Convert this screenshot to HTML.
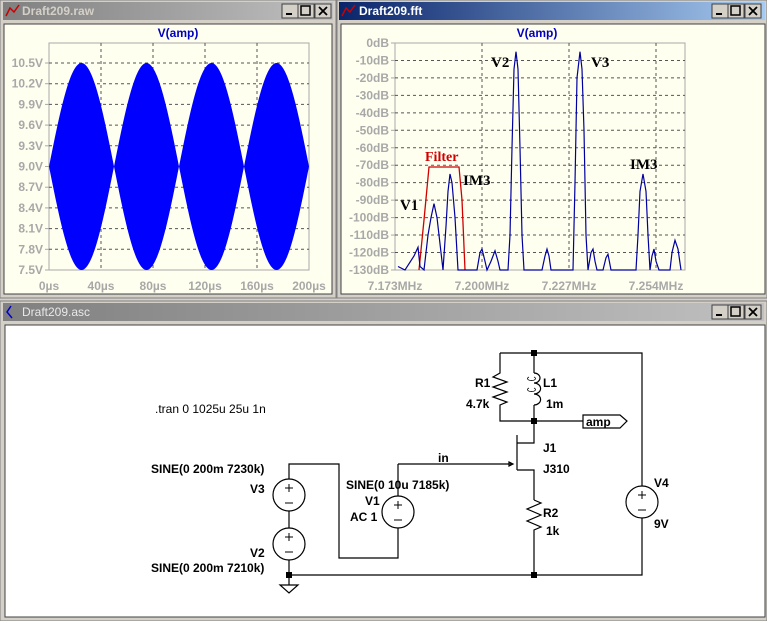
<!DOCTYPE html>
<html><head><meta charset="utf-8"><style>
html,body{margin:0;padding:0;background:#d4d0c8;}
svg{display:block;}
.ax{font:bold 12px "Liberation Sans",sans-serif;fill:#a8a8a8;}
.sc{font:bold 12px "Liberation Sans",sans-serif;fill:#000;}
.sr{font:bold 15px "Liberation Serif",serif;fill:#000;}
.tt{font:bold 12px "Liberation Sans",sans-serif;}
</style></head><body>
<svg id="s" width="767" height="621" viewBox="0 0 767 621" xmlns="http://www.w3.org/2000/svg">
<defs>
<linearGradient id="gi" x1="0" x2="1"><stop offset="0" stop-color="#808080"/><stop offset="1" stop-color="#c0c0c0"/></linearGradient>
<linearGradient id="ga" x1="0" x2="1"><stop offset="0" stop-color="#0a246a"/><stop offset="1" stop-color="#a6caf0"/></linearGradient>
</defs>
<rect width="767" height="621" fill="#d4d0c8"/>
<rect x="0" y="0" width="336" height="298" fill="#d4d0c8" stroke="#808080"/>
<rect x="3" y="2" width="330" height="18" fill="url(#gi)"/>
<text x="22" y="15" class="tt" fill="#d4d0c8">Draft209.raw</text>
<path d="M6 16 L10 8 L14 12 L19 5" stroke="#c00" fill="none" stroke-width="1.5"/>
<rect x="4" y="24" width="328" height="270" fill="#fffff0" stroke="#404040"/>
<text x="178" y="37" class="tt" fill="#0000c0" text-anchor="middle">V(amp)</text>
<rect x="337" y="0" width="430" height="298" fill="#d4d0c8" stroke="#808080"/>
<rect x="339" y="2" width="426" height="18" fill="url(#ga)"/>
<text x="359" y="15" class="tt" fill="#fff">Draft209.fft</text>
<path d="M342 16 L346 8 L350 12 L355 5" stroke="#c00" fill="none" stroke-width="1.5"/>
<rect x="341" y="24" width="424" height="270" fill="#fffff0" stroke="#404040"/>
<text x="537" y="37" class="tt" fill="#0000c0" text-anchor="middle">V(amp)</text>
<rect x="0" y="301" width="767" height="320" fill="#d4d0c8" stroke="#808080"/>
<rect x="3" y="303" width="761" height="18" fill="url(#gi)"/>
<text x="22" y="316" class="tt" fill="#e8e8e8" style="font-weight:normal">Draft209.asc</text>
<path d="M11 306 L7 312 L12 318" stroke="#00c" fill="none" stroke-width="1.5"/>
<rect x="5" y="325" width="760" height="292" fill="#fff" stroke="#404040"/>
<g id="btns"></g>
<g id="plots"></g>

<polyline fill="none" stroke="#d00000" stroke-width="1.3" points="419,270 424,220 429,167 459,167 462,200 465,270"/>
<polyline id="fft" fill="none" stroke="#0000a0" stroke-width="1.2"/>
<text x="425" y="161" style="font:bold 14px 'Liberation Serif',serif;fill:#d00000">Filter</text>
<text x="491" y="67" class="sr">V2</text>
<text x="591" y="67" class="sr">V3</text>
<text x="463" y="185" class="sr">IM3</text>
<text x="630" y="169" class="sr">IM3</text>
<text x="400" y="210" class="sr">V1</text>

<g stroke="#000" fill="none" stroke-width="1.2">
<path d="M500 353 H642 V486 M642 518 V575 H289"/>
<path d="M500 353 V373 L493 377 L507 382 L493 387 L507 392 L493 397 L507 402 L500 405 V421 H583"/>
<path d="M534 353 V373 M534 405 V443 H517 M517 435 V470 M517 470 H534 V500"/>
<path d="M534 373 a6 5 0 0 1 0 10 a6 5 0 0 1 0 11 a6 5 0 0 1 0 11"/>
<path d="M529 377 a4 2 0 1 0 5 0 M529 388 a4 2 0 1 0 5 0" stroke-width="0.8"/>
<path d="M534 500 L541 503 L527 509 L541 515 L527 521 L541 527 L534 530 V575"/>
<path d="M398 464 H513 M513 464 L509 462 L509 466 Z" />
<path d="M583 415 H620 L627 421 L620 428 H583 Z"/>
<circle cx="289" cy="495" r="16"/><circle cx="289" cy="544" r="16"/>
<circle cx="398" cy="512" r="16"/><circle cx="642" cy="502" r="16"/>
<path d="M289 479 V464 H339 V558 H398 V528 M398 496 V464 M289 511 V528 M289 560 V585"/>
<path d="M280 585 H298 L289 593 Z"/>
<path d="M289 484 v8 M285 488 h8 M285 503 h8 M289 533 v8 M285 537 h8 M285 552 h8 M398 501 v8 M394 505 h8 M394 520 h8 M642 491 v8 M638 495 h8 M638 510 h8" stroke-width="1"/>
</g>
<g fill="#000"><rect x="531" y="350" width="6" height="6"/><rect x="531" y="418" width="6" height="6"/><rect x="531" y="572" width="6" height="6"/><rect x="286" y="572" width="6" height="6"/></g>
<text x="586" y="426" class="sc">amp</text>
<text x="155" y="413" class="sc" style="font-weight:normal">.tran 0 1025u 25u 1n</text>
<text x="151" y="473" class="sc">SINE(0 200m 7230k)</text>
<text x="250" y="493" class="sc">V3</text>
<text x="250" y="557" class="sc">V2</text>
<text x="151" y="572" class="sc">SINE(0 200m 7210k)</text>
<text x="346" y="489" class="sc">SINE(0 10u 7185k)</text>
<text x="365" y="505" class="sc">V1</text>
<text x="350" y="521" class="sc">AC 1</text>
<text x="438" y="462" class="sc">in</text>
<text x="475" y="387" class="sc">R1</text>
<text x="466" y="408" class="sc">4.7k</text>
<text x="543" y="387" class="sc">L1</text>
<text x="546" y="408" class="sc">1m</text>
<text x="543" y="452" class="sc">J1</text>
<text x="543" y="473" class="sc">J310</text>
<text x="543" y="517" class="sc">R2</text>
<text x="546" y="535" class="sc">1k</text>
<text x="654" y="487" class="sc">V4</text>
<text x="654" y="528" class="sc">9V</text>
</svg>
<script>
var NS="http://www.w3.org/2000/svg",P=document.getElementById("plots");
function el(t,a,p){var e=document.createElementNS(NS,t);for(var k in a)e.setAttribute(k,a[k]);(p||P).appendChild(e);return e;}
el("rect",{x:49,y:43,width:260,height:227,fill:"none",stroke:"#a8a8a8"});
var yl=["10.5V","10.2V","9.9V","9.6V","9.3V","9.0V","8.7V","8.4V","8.1V","7.8V","7.5V"];
for(var i=0;i<11;i++){var y=63+i*20.7;if(i<10)el("line",{x1:49,x2:309,y1:y,y2:y,stroke:"#555","stroke-dasharray":"3,3"});
el("line",{x1:45,x2:49,y1:y,y2:y,stroke:"#a8a8a8"});var t=el("text",{x:43,y:y+4,"class":"ax","text-anchor":"end"});t.textContent=yl[i];}
var xl=["0µs","40µs","80µs","120µs","160µs","200µs"];
for(i=0;i<6;i++){var x=49+i*52;if(i>0&&i<5)el("line",{x1:x,x2:x,y1:43,y2:270,stroke:"#555","stroke-dasharray":"3,3"});
var t=el("text",{x:x,y:290,"class":"ax","text-anchor":"middle"});t.textContent=xl[i];}
var tp="",bt="";for(var xx=49;xx<=309;xx+=1){var a=Math.abs(Math.sin((xx-49)/65*Math.PI));var yy=103.5*a;tp+=xx+","+(166.5-yy)+" ";bt=xx+","+(166.5+yy)+" "+bt;}
el("polygon",{points:tp+bt,fill:"#0000ff"});
el("rect",{x:395,y:43,width:290,height:227,fill:"none",stroke:"#a8a8a8"});
for(i=0;i<14;i++){var y=43+i*17.46;if(i>0&&i<13)el("line",{x1:395,x2:685,y1:y,y2:y,stroke:"#555","stroke-dasharray":"3,3"});
el("line",{x1:391,x2:395,y1:y,y2:y,stroke:"#a8a8a8"});var t=el("text",{x:389,y:y+4,"class":"ax","text-anchor":"end"});t.textContent=(i==0?"0":"-"+i*10)+"dB";}
var fx=["7.173MHz","7.200MHz","7.227MHz","7.254MHz"];
for(i=0;i<4;i++){var x=395+i*87;if(i>0)el("line",{x1:x,x2:x,y1:43,y2:270,stroke:"#555","stroke-dasharray":"3,3"});
var t=el("text",{x:x,y:290,"class":"ax","text-anchor":"middle"});t.textContent=fx[i];}
var d=[398,-128,405,-130,414,-122,418,-117,420,-128,424,-130,428,-110,431,-100,434,-92,437,-100,440,-115,443,-130,446,-105,448,-85,450,-75,452,-80,455,-100,458,-130,477,-130,480,-120,482,-118,485,-125,487,-130,491,-125,495,-119,498,-125,500,-130,508,-130,510,-110,512,-60,514,-15,516,-5,518,-15,520,-60,522,-110,524,-130,542,-130,545,-122,547,-118,549,-122,551,-130,573,-130,575,-80,577,-20,580,-5,582,-15,584,-50,586,-110,588,-130,591,-120,593,-118,595,-125,597,-130,603,-130,606,-123,608,-121,611,-130,636,-130,638,-110,640,-85,643,-75,646,-85,648,-110,650,-130,652,-122,654,-118,656,-125,659,-130,670,-130,672,-120,675,-113,678,-118,681,-130];
var s="";for(i=0;i<d.length;i+=2)s+=d[i]+","+(43-d[i+1]*1.746)+" ";
document.getElementById("fft").setAttribute("points",s);
var B=document.getElementById("btns");
[[282,4],[298,4],[315,4],[712,4],[728,4],[745,4],[712,305],[728,305],[745,305]].forEach(function(p,j){
el("rect",{x:p[0],y:p[1],width:16,height:14,fill:"#d4d0c8",stroke:"#404040"},B);
var k=j%3,x=p[0],y=p[1];
if(k==0)el("rect",{x:x+4,y:y+9,width:6,height:2,fill:"#000"},B);
if(k==1)el("rect",{x:x+3,y:y+2,width:9,height:9,fill:"none",stroke:"#000","stroke-width":1.5},B);
if(k==2)el("path",{d:"M"+(x+4)+" "+(y+3)+" l8 8 M"+(x+12)+" "+(y+3)+" l-8 8",stroke:"#000","stroke-width":1.8},B);
});
</script>
</body></html>
